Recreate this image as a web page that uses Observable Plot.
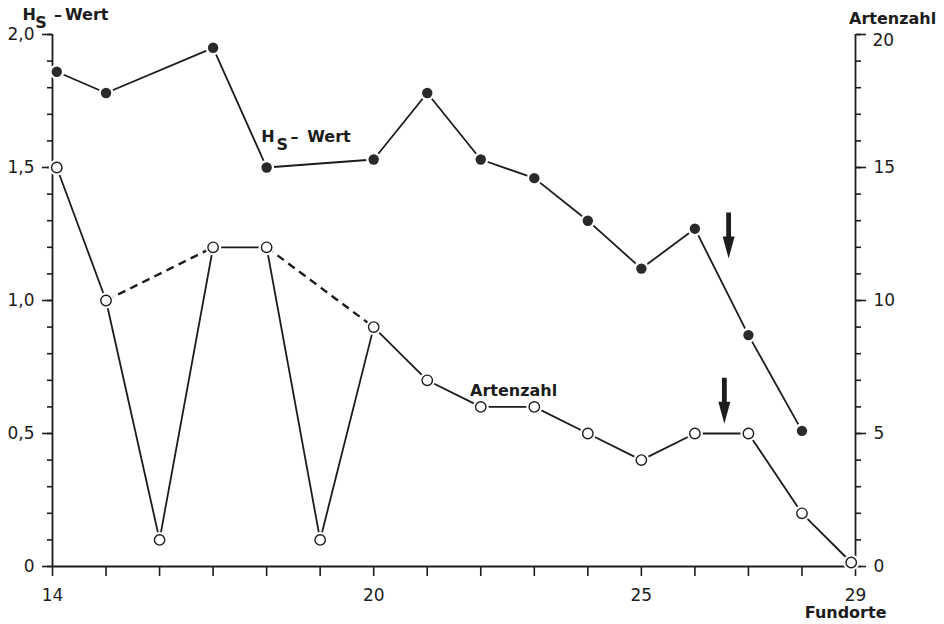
<!DOCTYPE html>
<html><head><meta charset="utf-8">
<script src="https://cdn.jsdelivr.net/npm/d3@7"></script>
<script src="https://cdn.jsdelivr.net/npm/@observablehq/plot@0.6"></script>
<style>
html,body{margin:0;padding:0;background:#fff;}
#chart svg{display:block;}
</style></head><body><div id="chart"></div>
<script>
// H_S-Wert (filled dots) by Fundort
const hsFundorte = [14.08, 15, 17, 18, 20, 21, 22, 23, 24, 25, 26, 27, 28];
const hsWert     = [1.86, 1.78, 1.95, 1.50, 1.53, 1.78, 1.53, 1.46, 1.30, 1.12, 1.27, 0.87, 0.51];
// Artenzahl (open circles) by Fundort
const artFundorte = [14.08, 15, 16, 17, 18, 19, 20, 21, 22, 23, 24, 25, 26, 27, 28, 28.92];
const artenzahl   = [15, 10, 1, 12, 12, 1, 9, 7, 6, 6, 5, 4, 5, 5, 2, 0.15];
// dashed connections of the Artenzahl line (skipping Fundorte 16 and 19)
const dashedFrom = [15, 18];
const dashedTo   = [17, 20];
// arrow tips (Fundort, H_S scale)
const arrowFundorte = [26.63, 26.55];
const arrowTip      = [1.158, 0.537];
// tick labels
const xTickLabels = [14, 20, 25, 29];
const leftMajor = [0, 0.5, 1, 1.5, 2];
const rightMajor = [0, 5, 10, 15];
const rightTop = 20;

const ink = "#1c1c1c";
const FONT = "DejaVu Sans";
const fmtLeft = d => d === 0 ? "0" : d.toFixed(1).replace(".", ",");
const minor = d3.range(0, 21).map(i => i / 10);

const hsData = hsFundorte.map((x, i) => ({x, y: hsWert[i]}));
const artData = artFundorte.map((x, i) => ({x, y: artenzahl[i] / 10}));
const artAt = f => artenzahl[artFundorte.indexOf(f)] / 10;
const dashData = dashedFrom.map((a, i) => ({x1: a, y1: artAt(a), x2: dashedTo[i], y2: artAt(dashedTo[i])}));
const arrowData = arrowFundorte.map((x, i) => ({x, y: arrowTip[i]}));

const arrowSymbol = {
  draw(ctx) {
    ctx.moveTo(-2.4, -46); ctx.lineTo(2.4, -46); ctx.lineTo(2.4, -22);
    ctx.lineTo(6, -22); ctx.lineTo(0, 0); ctx.lineTo(-6, -22);
    ctx.lineTo(-2.4, -22); ctx.closePath();
  }
};

function label(x, y, t, o = {}) {
  return Plot.text([{x, y, t}], {x: "x", y: "y", text: "t", textAnchor: "start", lineAnchor: "bottom",
    fontSize: 16, fontWeight: "bold", fontFamily: FONT, fill: ink, ...o});
}
function hsLabel(x, y, dx, dy, sx, dashx, wx) {
  return [
    label(x, y, "H", {dx, dy}),
    label(x, y, "S", {dx: dx + sx, dy: dy + 8.7}),
    label(x, y, "–", {dx: dx + dashx, dy}),
    label(x, y, "Wert", {dx: dx + wx, dy})
  ];
}

const axisCommon = {label: null, color: ink, strokeWidth: 1.6, fontSize: 17, fontFamily: FONT};

const chart = Plot.plot({
  width: 944, height: 624,
  marginLeft: 52, marginRight: 89, marginTop: 34, marginBottom: 58,
  style: {fontFamily: FONT, fontSize: "17px", background: "#fff", color: ink},
  x: {domain: [14, 29]},
  y: {domain: [0, 2]},
  marks: [
    // axes
    Plot.axisY({...axisCommon, anchor: "left", ticks: minor, tickSize: 5, tickFormat: () => ""}),
    Plot.axisY({...axisCommon, anchor: "left", ticks: leftMajor, tickSize: 10, tickPadding: 8, tickFormat: fmtLeft}),
    Plot.axisY({...axisCommon, anchor: "right", ticks: minor, tickSize: 5, tickFormat: () => ""}),
    Plot.axisY({...axisCommon, anchor: "right", ticks: rightMajor.map(d => d / 10), tickSize: 10, tickPadding: 8,
      tickFormat: d => String(Math.round(d * 10))}),
    Plot.axisY({...axisCommon, anchor: "right", ticks: [rightTop / 10], tickSize: 10, tickFormat: () => ""}),
    label(29, rightTop / 10, String(rightTop), {fontWeight: "normal", fontSize: 17, lineAnchor: "top", dx: 17, dy: -1}),
    Plot.axisX({...axisCommon, anchor: "bottom", ticks: d3.range(14, 30), tickSize: 10, tickPadding: 12,
      tickFormat: d => xTickLabels.includes(d) ? String(d) : ""}),
    Plot.ruleX([14, 29], {y1: 0, y2: 2, stroke: ink, strokeWidth: 1.8}),
    Plot.ruleY([0], {x1: 14, x2: 29, stroke: ink, strokeWidth: 1.8}),
    // lines
    Plot.line(artData, {x: "x", y: "y", stroke: ink, strokeWidth: 1.8}),
    Plot.link(dashData, {x1: "x1", y1: "y1", x2: "x2", y2: "y2", stroke: ink, strokeWidth: 2.4, strokeDasharray: "8,5.5"}),
    Plot.line(hsData, {x: "x", y: "y", stroke: ink, strokeWidth: 1.8}),
    // gaps around markers
    Plot.dot(artData, {x: "x", y: "y", r: 8, fill: "#fff"}),
    Plot.dot(hsData, {x: "x", y: "y", r: 7.5, fill: "#fff"}),
    // markers
    Plot.dot(artData, {x: "x", y: "y", r: 5.2, fill: "#fff", stroke: ink, strokeWidth: 1.4}),
    Plot.dot(hsData, {x: "x", y: "y", r: 5.2, fill: "#2a2a2a"}),
    // arrows
    Plot.dot(arrowData, {x: "x", y: "y", symbol: arrowSymbol, r: 5, fill: ink}),
    // labels
    ...hsLabel(14, 2, -30, -15, 12.7, 31.5, 42.5),
    ...hsLabel(17.9, 1.597, 0, 0, 15.3, 29.3, 46),
    label(21.8, 0.64, "Artenzahl"),
    label(29, 2, "Artenzahl", {dx: -6.5, dy: -11}),
    label(29, 0, "Fundorte", {textAnchor: "end", dx: 31, dy: 51.5})
  ]
});
document.getElementById("chart").appendChild(chart);
</script></body></html>
